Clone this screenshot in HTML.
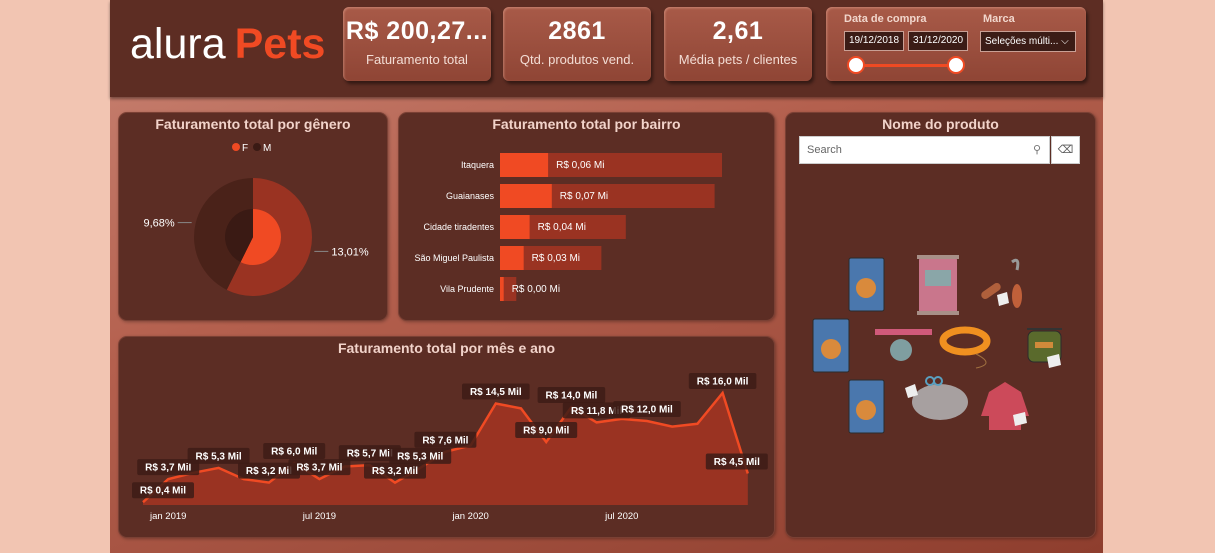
<!DOCTYPE html>
<html><head><meta charset="utf-8"><style>
*{margin:0;padding:0;box-sizing:border-box}
body{width:1215px;height:553px;background:#f2c5b2;position:relative;overflow:hidden;font-family:"Liberation Sans",sans-serif}
#dash{position:absolute;left:110px;top:0;width:993px;height:553px;background:linear-gradient(160deg,#c98474 0%,#b4604e 40%,#8e3e2e 100%)}
#header{position:absolute;left:0;top:0;width:993px;height:97px;background:#5d2d23;box-shadow:0 2px 3px rgba(0,0,0,.4)}
.card{position:absolute;background:linear-gradient(180deg,#a85a48,#8f4535);border-radius:6px;box-shadow:2px 3px 3px rgba(0,0,0,.45),inset 1px 1px 2px rgba(255,200,180,.4);color:#fff;text-align:center}
.kv{font-size:25px;font-weight:bold;margin-top:10px;letter-spacing:.5px}
.kl{font-size:13px;color:#f3ddd5;margin-top:6px}
.panel{position:absolute;background:#5c2d24;border-radius:9px;border:1px solid #7a4034;box-shadow:1px 1px 3px rgba(0,0,0,.3)}
.ptitle{position:absolute;left:0;right:0;top:3px;text-align:center;font-size:14px;font-weight:bold;color:#f2d3ca}
svg text{font-family:"Liberation Sans",sans-serif}
</style></head><body>
<div id="dash">
 <div id="header">
  <div style="position:absolute;left:20px;top:20px;font-size:43px;color:#fff;letter-spacing:0px">alura<span style="color:#f04a23;font-weight:bold;margin-left:9px;letter-spacing:0px">Pets</span></div>
  <div class="card" style="left:233px;top:7px;width:148px;height:74px"><div class="kv">R$ 200,27...</div><div class="kl">Faturamento total</div></div>
  <div class="card" style="left:393px;top:7px;width:148px;height:74px"><div class="kv">2861</div><div class="kl">Qtd. produtos vend.</div></div>
  <div class="card" style="left:554px;top:7px;width:148px;height:74px"><div class="kv">2,61</div><div class="kl">Média pets / clientes</div></div>
  <div class="card" style="left:716px;top:7px;width:260px;height:74px;text-align:left">
   <div style="position:absolute;left:18px;top:6px;font-size:11px;font-weight:bold;color:#f1d6cc">Data de compra</div>
   <div style="position:absolute;left:157px;top:6px;font-size:11px;font-weight:bold;color:#f1d6cc">Marca</div>
   <div style="position:absolute;left:18px;top:24px;width:60px;height:20px;background:#3b1c16;border:1px solid #c9a095;font-size:10px;line-height:18px;text-align:center">19/12/2018</div>
   <div style="position:absolute;left:82px;top:24px;width:60px;height:20px;background:#3b1c16;border:1px solid #c9a095;font-size:10px;line-height:18px;text-align:center">31/12/2020</div>
   <div style="position:absolute;left:154px;top:24px;width:96px;height:21px;background:#3b1c16;border:1px solid #c9a095;font-size:10px;line-height:19px;padding-left:4px">Seleções múlti... ⌵</div>
   <div style="position:absolute;left:30px;top:57px;width:100px;height:3px;background:#f04a23"></div>
   <div style="position:absolute;left:21px;top:49px;width:18px;height:18px;border-radius:50%;background:#fff;border:2px solid #f04a23"></div>
   <div style="position:absolute;left:121px;top:49px;width:18px;height:18px;border-radius:50%;background:#fff;border:2px solid #f04a23"></div>
  </div>
 </div>

 <div class="panel" style="left:8px;top:112px;width:270px;height:209px">
  <div class="ptitle">Faturamento total por gênero</div>
  <svg id="donut" width="270" height="209" style="position:absolute;left:-1px;top:-1px"></svg>
 </div>
 <div class="panel" style="left:288px;top:112px;width:377px;height:209px">
  <div class="ptitle">Faturamento total por bairro</div>
  <svg id="bars" width="377" height="209" style="position:absolute;left:-1px;top:-1px"></svg>
 </div>
 <div class="panel" style="left:675px;top:112px;width:311px;height:426px">
  <div class="ptitle">Nome do produto</div>
  <div style="position:absolute;left:13px;top:23px;width:251px;height:28px;background:#fff;border:1px solid #ccc;font-size:11px;color:#666;line-height:26px;padding-left:7px">Search<span style="position:absolute;right:8px;color:#777">⚲</span></div>
  <div style="position:absolute;left:265px;top:23px;width:29px;height:28px;background:#fff;border:1px solid #ccc;font-size:11px;color:#555;text-align:center;line-height:26px">⌫</div>
  <svg width="311" height="426" style="position:absolute;left:-1px;top:-1px">
   <g><rect x="64" y="146" width="35" height="53" rx="2" fill="#4a77ad" stroke="#2b2b2b"/><circle cx="81" cy="176" r="10" fill="#d98a3c"/></g>
   <g><rect x="28" y="207" width="36" height="53" rx="2" fill="#4a77ad" stroke="#2b2b2b"/><circle cx="46" cy="237" r="10" fill="#d98a3c"/></g>
   <g><rect x="64" y="268" width="35" height="53" rx="2" fill="#4a77ad" stroke="#2b2b2b"/><circle cx="81" cy="298" r="10" fill="#d98a3c"/></g>
   <g><rect x="134" y="145" width="38" height="57" rx="3" fill="#c9768c"/><rect x="140" y="158" width="26" height="16" fill="#8aa6a8"/><rect x="132" y="143" width="42" height="4" fill="#a89088"/><rect x="132" y="199" width="42" height="4" fill="#a89088"/></g>
   <g><rect x="195" y="175" width="22" height="8" rx="4" fill="#b0603c" transform="rotate(-35 206 179)"/><path d="M227 150 q8 -6 5 8" stroke="#999" fill="none" stroke-width="3"/><ellipse cx="232" cy="184" rx="5" ry="12" fill="#c0603a"/><polygon points="212,183 222,180 224,191 214,194" fill="#eee"/></g>
   <g><rect x="90" y="217" width="57" height="6" fill="#d05a7a"/><circle cx="116" cy="238" r="11" fill="#7f9ea0"/></g>
   <g><ellipse cx="180" cy="229" rx="22" ry="11" fill="none" stroke="#f09020" stroke-width="7"/><path d="M191 242 q20 10 0 14" stroke="#a07040" fill="none"/></g>
   <g><path d="M242 217 l35 0" stroke="#333" stroke-width="2"/><rect x="243" y="219" width="33" height="31" rx="6" fill="#5a6a2c" stroke="#2b2b2b"/><rect x="250" y="230" width="18" height="6" fill="#d08a3a"/><polygon points="262,245 274,242 276,253 264,256" fill="#eee"/></g>
   <g><ellipse cx="155" cy="290" rx="28" ry="18" fill="#a7a0a0"/><circle cx="145" cy="269" r="4" fill="none" stroke="#5aa0c0" stroke-width="2"/><circle cx="153" cy="269" r="4" fill="none" stroke="#5aa0c0" stroke-width="2"/><polygon points="120,276 130,272 133,283 123,286" fill="#eee"/></g>
   <g><path d="M204 280 l16 -10 l16 10 l8 24 l-8 0 l0 14 l-32 0 l0 -14 l-8 0z" fill="#cc4a5a"/><polygon points="228,303 240,300 242,311 230,314" fill="#eee"/></g>
  </svg>
 </div>
 <div class="panel" style="left:8px;top:336px;width:657px;height:202px">
  <div class="ptitle">Faturamento total por mês e ano</div>
  <svg id="area" width="657" height="202" style="position:absolute;left:-1px;top:-1px"></svg>
 </div>
</div>
<script>
const NS="http://www.w3.org/2000/svg";
function mk(p,t,a){const e=document.createElementNS(NS,t);for(const k in a)e.setAttribute(k,a[k]);p.appendChild(e);return e;}

// ---- donut data
const genderCats=["F","M"];
const genderPct=[13.01,9.68];
const genderLabels=["13,01%","9,68%"];
const genderOuter=["#9a3322","#4a2219"];
const genderInner=["#f04a23","#3a1a14"];

// ---- bar data
const bairros=["Itaquera","Guaianases","Cidade tiradentes","São Miguel Paulista","Vila Prudente"];
const bairroValues=[0.065,0.07,0.04,0.032,0.005];
const bairroTotals=[0.30,0.29,0.17,0.137,0.022];
const bairroLabels=["R$ 0,06 Mi","R$ 0,07 Mi","R$ 0,04 Mi","R$ 0,03 Mi","R$ 0,00 Mi"];

// ---- area data
const monthValues=[0.4,3.7,4.6,5.3,3.7,3.2,6.0,3.7,5.5,5.7,3.2,5.3,7.6,8.5,14.5,13.8,9.0,14.0,11.8,12.3,12.0,11.2,11.6,16.0,4.5];
const monthLabels=["R$ 0,4 Mil","R$ 3,7 Mil",null,"R$ 5,3 Mil",null,"R$ 3,2 Mil","R$ 6,0 Mil","R$ 3,7 Mil",null,"R$ 5,7 Mil","R$ 3,2 Mil","R$ 5,3 Mil","R$ 7,6 Mil",null,"R$ 14,5 Mil",null,"R$ 9,0 Mil","R$ 14,0 Mil","R$ 11,8 Mil",null,"R$ 12,0 Mil",null,null,"R$ 16,0 Mil","R$ 4,5 Mil"];
const xTicks=["jan 2019","jul 2019","jan 2020","jul 2020"];
const xTickIdx=[1,7,13,19];

// donut
(function(){
 const s=document.getElementById("donut");
 const cx=135,cy=125,R=59,r=28;
 const tot=genderPct.reduce((a,b)=>a+b,0);
 genderCats.forEach((c,i)=>{
  const g=mk(s,"g",{});
  
  
  mk(g,"circle",{cx:118+i*21,cy:35,r:4,fill:genderInner[i]});
  const t=mk(g,"text",{x:124+i*21,y:39,fill:"#fff","font-size":10});t.textContent=c;
 });
 let a0=0;
 genderPct.forEach((v,i)=>{
  const a1=a0+v/tot*2*Math.PI;
  const pt=(rad,a)=>[cx+rad*Math.sin(a),cy-rad*Math.cos(a)];
  const big=(a1-a0)>Math.PI?1:0;
  const [x0,y0]=pt(R,a0),[x1,y1]=pt(R,a1),[u0,v0]=pt(r,a0),[u1,v1]=pt(r,a1);
  const o=mk(s,"path",{d:`M${cx},${cy}L${x0},${y0}A${R},${R} 0 ${big} 1 ${x1},${y1}Z`,fill:genderOuter[i]});
  
  
  const n=mk(s,"path",{d:`M${cx},${cy}L${u0},${v0}A${r},${r} 0 ${big} 1 ${u1},${v1}Z`,fill:genderInner[i]});
  
  
  const am=(a0+a1)/2;const [lx,ly]=pt(R+4,am);const right=Math.sin(am)>0;
  mk(s,"line",{x1:lx,y1:ly,x2:lx+(right?14:-14),y2:ly,stroke:"#888"});
  const t=mk(s,"text",{x:lx+(right?17:-17),y:ly+4,fill:"#fff","font-size":11,"text-anchor":right?"start":"end"});
  t.textContent=genderLabels[i];
  
  
  a0=a1;
 });
})();

// bars
(function(){
 const s=document.getElementById("bars");
 const x0=102,scale=740,y0=41,step=31,h=24;
 bairros.forEach((b,i)=>{
  const y=y0+i*step;
  const t=mk(s,"text",{x:x0-6,y:y+h/2+3,fill:"#fff","font-size":9,"text-anchor":"end"});t.textContent=b;
  
  
  const bg=mk(s,"rect",{x:x0,y:y,width:bairroTotals[i]*scale,height:h,fill:"#9a3322"});
  
  
  const w=bairroValues[i]*scale;
  const r=mk(s,"rect",{x:x0,y:y,width:w,height:h,fill:"#f04a23"});
  
  
  const l=mk(s,"text",{x:x0+w+8,y:y+h/2+3,fill:"#fff","font-size":10});l.textContent=bairroLabels[i];
  
  
 });
})();

// area
(function(){
 const s=document.getElementById("area");
 const X=i=>25+i*25.2, Y=v=>169-v*7;
 let d="M"+X(0)+","+Y(monthValues[0]);
 monthValues.forEach((v,i)=>{if(i)d+="L"+X(i)+","+Y(v);});
 const a=mk(s,"path",{d:d+`L${X(monthValues.length-1)},169L${X(0)},169Z`,fill:"#9a3322"});
 
 
 const l=mk(s,"path",{d:d,fill:"none",stroke:"#f04a23","stroke-width":2.5});
 
 
 xTicks.forEach((t,k)=>{
  const e=mk(s,"text",{x:X(xTickIdx[k]),y:183,fill:"#fff","font-size":9.5,"text-anchor":"middle"});e.textContent=t;
  
  
 });
 monthValues.forEach((v,i)=>{
  if(!monthLabels[i])return;
  const w=monthLabels[i].length*5.6+6;
  let cx=Math.min(Math.max(X(i),w/2+14),X(monthValues.length-1)-w/2+20);
  const cy=Y(v)-12;
  const g=mk(s,"g",{});
  
  
  mk(g,"rect",{x:cx-w/2,y:cy-8,width:w,height:16,fill:"#3d1c16",opacity:.85,rx:2});
  const t=mk(g,"text",{x:cx,y:cy+3.5,fill:"#fff","font-size":10,"font-weight":"bold","text-anchor":"middle"});t.textContent=monthLabels[i];
 });
})();
</script>
</body></html>
